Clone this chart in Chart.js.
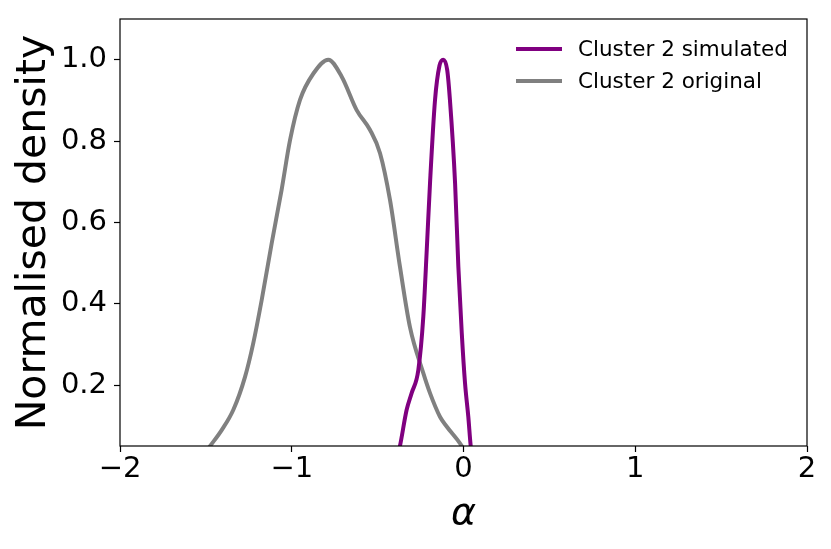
<!DOCTYPE html>
<html>
<head>
<meta charset="utf-8">
<script src="https://cdn.jsdelivr.net/npm/chart.js@4/dist/chart.umd.min.js"></script>
<style>
  html, body { margin: 0; padding: 0; background: #fff; }
  #wrap { width: 831px; height: 549px; position: relative; }
</style>
</head>
<body>
<div id="wrap"><canvas id="chart"></canvas></div>
<script>
// Data
const originalAlpha = [-1.56, -1.475, -1.408, -1.34, -1.272, -1.224, -1.175, -1.117, -1.059, -1.01, -0.952, -0.874, -0.787, -0.709, -0.622, -0.544, -0.486, -0.428, -0.37, -0.312, -0.234, -0.195, -0.137, -0.098, -0.01, 0.05];
const originalDensity = [0.0, 0.05, 0.089, 0.139, 0.22, 0.303, 0.409, 0.548, 0.68, 0.802, 0.901, 0.966, 1.0, 0.958, 0.876, 0.827, 0.77, 0.655, 0.491, 0.343, 0.229, 0.18, 0.122, 0.098, 0.05, 0.0];

const simulatedAlpha = [-0.4, -0.37, -0.331, -0.302, -0.263, -0.234, -0.214, -0.195, -0.166, -0.14, -0.118, -0.095, -0.079, -0.049, -0.03, -0.01, 0.009, 0.028, 0.042, 0.06];
const simulatedDensity = [0.0, 0.05, 0.139, 0.18, 0.237, 0.368, 0.532, 0.696, 0.9, 0.985, 1.0, 0.975, 0.901, 0.696, 0.491, 0.327, 0.204, 0.122, 0.05, 0.0];

const xTicks = [-2, -1, 0, 1, 2];
const yTicks = [0.2, 0.4, 0.6, 0.8, 1.0];

const FONT = "'DejaVu Sans', sans-serif";

function toPoints(xs, ys) {
  return xs.map((x, i) => ({ x: x, y: ys[i] }));
}

// box around plot area + legend inside top right, like matplotlib
const framePlugin = {
  id: "frame",
  afterDatasetsDraw(chart) {
    const { ctx, chartArea } = chart;
    ctx.save();
    ctx.strokeStyle = "#000";
    ctx.lineWidth = 1.2;
    ctx.strokeRect(chartArea.left, chartArea.top, chartArea.right - chartArea.left, chartArea.bottom - chartArea.top);

    // legend
    const rows = [49, 81];
    ctx.font = "21.5px " + FONT;
    ctx.textBaseline = "middle";
    ctx.textAlign = "left";
    chart.data.datasets.forEach((ds, i) => {
      ctx.strokeStyle = ds.borderColor;
      ctx.lineWidth = 4;
      ctx.beginPath();
      ctx.moveTo(516, rows[i]);
      ctx.lineTo(562, rows[i]);
      ctx.stroke();
      ctx.fillStyle = "#000";
      ctx.fillText(ds.label, 578, rows[i] + 1);
    });
    ctx.restore();
  },
};

const ctx = document.getElementById("chart").getContext("2d");

new Chart(ctx, {
  type: "line",
  data: {
    datasets: [
      {
        label: "Cluster 2 simulated",
        data: toPoints(simulatedAlpha, simulatedDensity),
        borderColor: "#800080",
        borderWidth: 4,
        pointRadius: 0,
        cubicInterpolationMode: "monotone",
        fill: false,
      },
      {
        label: "Cluster 2 original",
        data: toPoints(originalAlpha, originalDensity),
        borderColor: "#808080",
        borderWidth: 4,
        pointRadius: 0,
        cubicInterpolationMode: "monotone",
        fill: false,
      },
    ],
  },
  options: {
    responsive: true,
    maintainAspectRatio: false,
    animation: false,
    layout: {
      padding: { left: 0, right: 24, top: 19, bottom: 0 },
    },
    plugins: {
      legend: { display: false },
      tooltip: { enabled: false },
    },
    scales: {
      x: {
        type: "linear",
        min: -2,
        max: 2,
        afterBuildTicks: (scale) => {
          scale.ticks = xTicks.map((v) => ({ value: v }));
        },
        afterFit: (scale) => {
          scale.height = 103;
          scale.paddingLeft = 0;
          scale.paddingRight = 0;
        },
        grid: {
          drawOnChartArea: false,
          drawTicks: true,
          tickLength: 6,
          color: "#000",
          tickWidth: 1.2,
        },
        border: { display: false },
        ticks: {
          color: "#000",
          font: { family: FONT, size: 29 },
          padding: 0,
          maxRotation: 0,
          callback: (v) => String(v).replace("-", "\u2212"),
        },
        title: {
          display: true,
          text: "α",
          color: "#000",
          font: { family: FONT, size: 38, style: "italic" },
          padding: { top: 0, bottom: 12 },
        },
      },
      y: {
        type: "linear",
        min: 0.05,
        max: 1.1,
        afterBuildTicks: (scale) => {
          scale.ticks = yTicks.map((v) => ({ value: v }));
        },
        afterFit: (scale) => {
          scale.width = 120;
          scale.paddingTop = 0;
          scale.paddingBottom = 0;
        },
        grid: {
          drawOnChartArea: false,
          drawTicks: true,
          tickLength: 6,
          color: "#000",
          tickWidth: 1.2,
        },
        border: { display: false },
        ticks: {
          color: "#000",
          font: { family: FONT, size: 29 },
          padding: 7,
          callback: (v) => v.toFixed(1),
        },
        title: {
          display: true,
          text: "Normalised density",
          color: "#000",
          font: { family: FONT, size: 41 },
          padding: { top: 10, bottom: 0 },
        },
      },
    },
  },
  plugins: [framePlugin],
});
</script>
</body>
</html>
